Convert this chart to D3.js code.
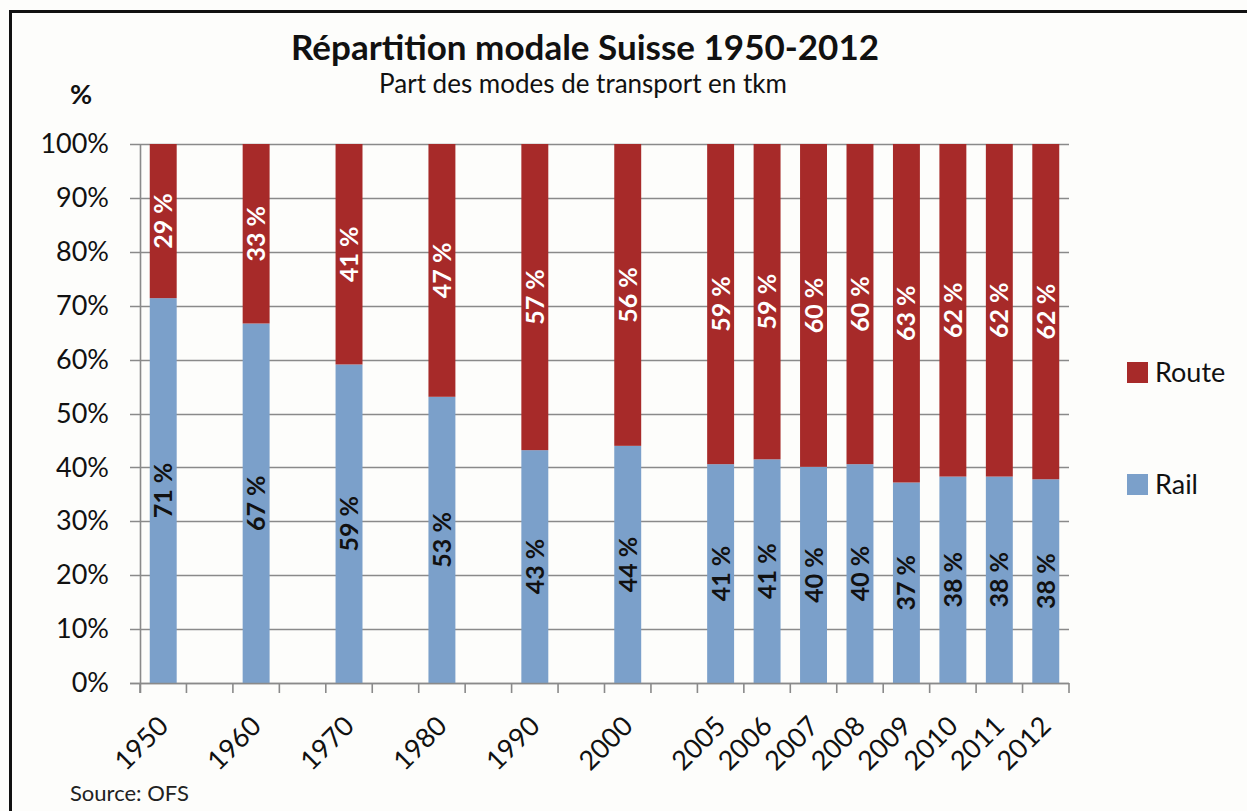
<!DOCTYPE html>
<html>
<head>
<meta charset="utf-8">
<script src="https://cdn.jsdelivr.net/npm/d3@7"></script>
<style>
  html, body { margin: 0; padding: 0; background: #fdfdfb; }
  svg { display: block; }
  text { font-family: Lato, "Open Sans", sans-serif; }
</style>
</head>
<body>
<svg id="chart" width="1247" height="811"></svg>
<script>
// ---- data ----
const axisSlots = ["1950", "", "1960", "", "1970", "", "1980", "", "1990", "", "2000", "",
                   "2005", "2006", "2007", "2008", "2009", "2010", "2011", "2012"];
const categories = ["1950", "1960", "1970", "1980", "1990", "2000",
                    "2005", "2006", "2007", "2008", "2009", "2010", "2011", "2012"];
const rail  = [71.4, 66.7, 59.1, 53.1, 43.2, 44.0, 40.6, 41.5, 40.1, 40.6, 37.2, 38.3, 38.3, 37.8];
const route = [28.6, 33.3, 40.9, 46.9, 56.8, 56.0, 59.4, 58.5, 59.9, 59.4, 62.8, 61.7, 61.7, 62.2];
const railLabels  = ["71 %", "67 %", "59 %", "53 %", "43 %", "44 %", "41 %", "41 %", "40 %", "40 %", "37 %", "38 %", "38 %", "38 %"];
const routeLabels = ["29 %", "33 %", "41 %", "47 %", "57 %", "56 %", "59 %", "59 %", "60 %", "60 %", "63 %", "62 %", "62 %", "62 %"];
const yTicks = [0, 10, 20, 30, 40, 50, 60, 70, 80, 90, 100];
const seriesNames = ["Route", "Rail"];
const colors = { Route: "#a72a29", Rail: "#7ba0ca" };

const title = "Répartition modale Suisse 1950-2012";
const subtitle = "Part des modes de transport en tkm";
const source = "Source: OFS";

// ---- layout ----
const svg = d3.select("#chart");
const plot = { left: 140, right: 1069, top: 144, bottom: 683 };

// frame (top and left lines)
svg.append("line").attr("x1", 10).attr("x2", 1247).attr("y1", 11.5).attr("y2", 11.5)
  .attr("stroke", "#111").attr("stroke-width", 3);
svg.append("line").attr("x1", 10.5).attr("x2", 10.5).attr("y1", 10).attr("y2", 811)
  .attr("stroke", "#111").attr("stroke-width", 3);

const xLin = d3.scaleLinear().domain([0, axisSlots.length]).range([plot.left, plot.right]);
const step = xLin(1) - xLin(0);
const barW = step * 0.58;
const y = d3.scaleLinear().domain([0, 100]).range([plot.bottom, plot.top]);

// gridlines
const gridCol = "#8a8a8a";
svg.append("g").selectAll("line").data(yTicks).join("line")
  .attr("x1", plot.left - 10).attr("x2", plot.right)
  .attr("y1", d => Math.round(y(d)) + 0.5).attr("y2", d => Math.round(y(d)) + 0.5)
  .attr("stroke", gridCol).attr("stroke-width", 1.6);

// y axis via d3
const yAxis = d3.axisLeft(y).tickValues(yTicks).tickFormat(d => d + "%").tickSize(0).tickPadding(31);
const yg = svg.append("g").attr("transform", `translate(${plot.left},0)`).call(yAxis);
yg.select(".domain").remove();
yg.selectAll("text").attr("font-size", 27).attr("fill", "#111")
  .attr("font-family", "Lato, 'Open Sans', sans-serif");

// bars
const idx = c => axisSlots.indexOf(c);
const bars = svg.append("g");
categories.forEach((c, i) => {
  const cx = xLin(idx(c) + 0.5);
  bars.append("rect").attr("x", cx - barW / 2).attr("width", barW)
    .attr("y", y(rail[i])).attr("height", y(0) - y(rail[i])).attr("fill", colors.Rail);
  bars.append("rect").attr("x", cx - barW / 2).attr("width", barW)
    .attr("y", y(rail[i] + route[i])).attr("height", y(rail[i]) - y(rail[i] + route[i])).attr("fill", colors.Route);
});

// axis lines
svg.append("line").attr("x1", plot.left + 0.5).attr("x2", plot.left + 0.5)
  .attr("y1", plot.top).attr("y2", plot.bottom + 10).attr("stroke", gridCol).attr("stroke-width", 1.6);
svg.append("line").attr("x1", plot.left - 10).attr("x2", plot.right)
  .attr("y1", plot.bottom + 0.5).attr("y2", plot.bottom + 0.5).attr("stroke", gridCol).attr("stroke-width", 1.6);

// x ticks at slot boundaries
svg.append("g").selectAll("line").data(d3.range(axisSlots.length + 1)).join("line")
  .attr("x1", d => xLin(d)).attr("x2", d => xLin(d))
  .attr("y1", plot.bottom).attr("y2", plot.bottom + 10)
  .attr("stroke", gridCol).attr("stroke-width", 1.6);

// x labels
svg.append("g").selectAll("text").data(axisSlots.map((s, i) => ({ s, i })).filter(d => d.s !== ""))
  .join("text")
  .attr("transform", d => `translate(${xLin(d.i + 0.5) - 7},${plot.bottom + 31}) rotate(-45)`)
  .attr("text-anchor", "end").attr("dy", "0.72em")
  .attr("font-size", 27).attr("fill", "#111")
  .text(d => d.s);

// data labels (rotated)
const lbl = svg.append("g");
categories.forEach((c, i) => {
  const cx = xLin(idx(c) + 0.5);
  const yr = (y(0) + y(rail[i])) / 2;
  const yt = (y(rail[i]) + y(rail[i] + route[i])) / 2;
  lbl.append("text").attr("transform", `translate(${cx},${yr}) rotate(-90)`)
    .attr("text-anchor", "middle").attr("dy", "0.36em")
    .attr("font-size", 25).attr("font-weight", "bold").attr("fill", "#111")
    .text(railLabels[i]);
  lbl.append("text").attr("transform", `translate(${cx},${yt}) rotate(-90)`)
    .attr("text-anchor", "middle").attr("dy", "0.36em")
    .attr("font-size", 25).attr("font-weight", "bold").attr("fill", "#fff")
    .text(routeLabels[i]);
});

// titles
svg.append("text").attr("x", 585).attr("y", 60).attr("text-anchor", "middle")
  .attr("font-size", 35).attr("font-weight", "bold").attr("fill", "#111").text(title);
svg.append("text").attr("x", 583).attr("y", 93).attr("text-anchor", "middle")
  .attr("font-size", 26).attr("fill", "#111").text(subtitle);
svg.append("text").attr("x", 81).attr("y", 104).attr("text-anchor", "middle")
  .attr("font-size", 27).attr("font-weight", "bold").attr("fill", "#111").text("%");
svg.append("text").attr("x", 70).attr("y", 801)
  .attr("font-size", 22).attr("fill", "#222").text(source);

// legend
const legY = { Route: 362, Rail: 474 };
seriesNames.forEach(n => {
  svg.append("rect").attr("x", 1127).attr("y", legY[n]).attr("width", 21).attr("height", 21).attr("fill", colors[n]);
  svg.append("text").attr("x", 1155).attr("y", legY[n] + 20).attr("font-size", 27).attr("fill", "#111").text(n);
});
</script>
</body>
</html>
